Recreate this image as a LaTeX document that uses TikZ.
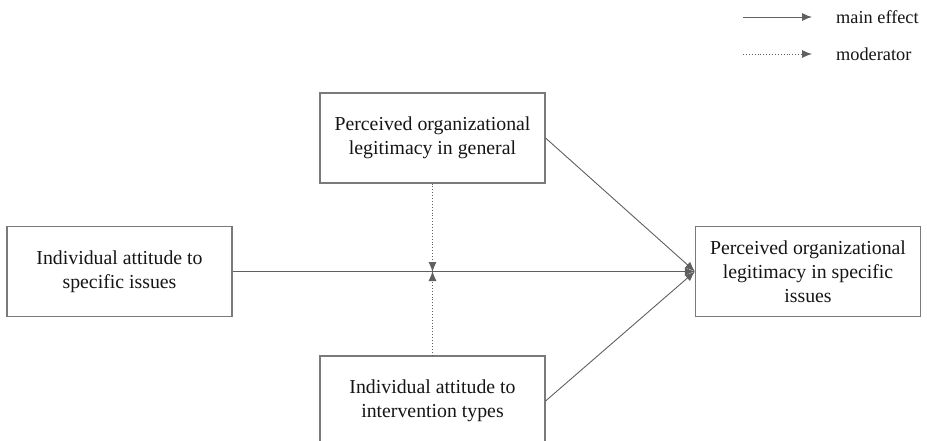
\documentclass[tikz,border=0pt]{standalone}
\usepackage{fontspec}
\setmainfont{Liberation Serif}
\usetikzlibrary{arrows.meta}
\definecolor{boxline}{HTML}{7A7A7A}
\definecolor{arrline}{HTML}{606060}
\definecolor{txt}{HTML}{151515}
\begin{document}
\begin{tikzpicture}[x=1pt,y=-1pt,
  box/.style={draw=boxline,line width=1.1pt,minimum width=225pt,minimum height=90pt,
    inner sep=0pt,align=center,text=txt,font=\rmfamily\fontsize{19.8}{24}\selectfont},
  effect/.style={draw=arrline,line width=0.9pt,-{Latex[length=10pt,width=8pt]}},
  moder/.style={draw=arrline,line width=0.9pt,dotted,-{Latex[length=10pt,width=8pt]}},
  legtext/.style={anchor=west,text=txt,font=\rmfamily\fontsize{18.3}{20}\selectfont,inner sep=0pt}]
\useasboundingbox (0,0) rectangle (927,441);
\clip (0,0) rectangle (927,441);
\node[box] (top) at (432.5,138) {Perceived organizational\\legitimacy in general};
\node[box] (left) at (119.5,271.5) {Individual attitude to\\specific issues};
\node[box] (right) at (808,271.5) {Perceived organizational\\legitimacy in specific\\issues};
\node[box] (bottom) at (432.5,401) {Individual attitude to\\intervention types};
\coordinate (tip) at (right.west);
\coordinate (mid) at (432.5,271.5);
\draw[effect] (left.east) -- (tip);
\draw[effect] (top.east) -- (tip);
\draw[effect] (bottom.east) -- (tip);
\draw[moder] (top.south) -- ([yshift=-0.5pt]mid);
\draw[moder] (bottom.north) -- ([yshift=0.5pt]mid);
% legend
\coordinate (l1a) at (743,17);
\coordinate (l1b) at (812,17);
\coordinate (l2a) at (743,54);
\coordinate (l2b) at (812,54);
\draw[effect] (l1a) -- (l1b);
\draw[moder] (l2a) -- (l2b);
\node[legtext] (t1) at (836,17) {main effect};
\node[legtext] (t2) at (836,54) {moderator};
\end{tikzpicture}
\end{document}
